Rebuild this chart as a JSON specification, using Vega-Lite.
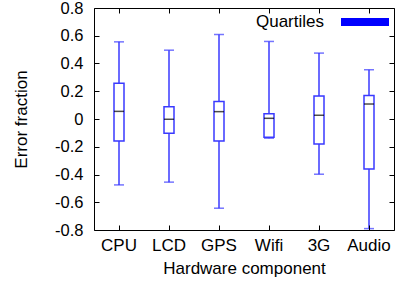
{
  "$schema": "https://vega.github.io/schema/vega-lite/v6.json",
  "width": 300,
  "height": 222,
  "autosize": {"type": "none"},
  "padding": {"left": 94, "top": 8, "right": 2, "bottom": 57},
  "config": {
    "font": "Liberation Sans",
    "view": {"stroke": "#000", "strokeWidth": 1},
    "axis": {"grid": false, "domain": false, "labelFont": "Liberation Sans", "titleFont": "Liberation Sans", "labelFontSize": 17, "titleFontSize": 17, "titleFontWeight": "normal", "labelColor": "#000", "titleColor": "#000", "labelOverlap": false, "tickColor": "#000", "tickWidth": 1}
  },
  "data": {"values": [
    {"comp": "CPU", "lower": -0.475, "q1": -0.158, "median": 0.055, "q3": 0.257, "upper": 0.556},
    {"comp": "LCD", "lower": -0.455, "q1": -0.103, "median": -0.002, "q3": 0.089, "upper": 0.496},
    {"comp": "GPS", "lower": -0.643, "q1": -0.158, "median": 0.053, "q3": 0.127, "upper": 0.609},
    {"comp": "Wifi", "lower": -0.138, "q1": -0.132, "median": 0.005, "q3": 0.038, "upper": 0.559},
    {"comp": "3G", "lower": -0.398, "q1": -0.18, "median": 0.027, "q3": 0.165, "upper": 0.475},
    {"comp": "Audio", "lower": -0.79, "q1": -0.36, "median": 0.108, "q3": 0.17, "upper": 0.355}
  ]},
  "resolve": {"axis": {"x": "independent", "y": "independent"}},
  "layer": [
    {
      "mark": {"type": "bar", "width": 10},
      "encoding": {
        "x": {"field": "comp", "type": "nominal", "sort": null, "scale": {"paddingInner": 0, "paddingOuter": 0}, "axis": {"orient": "top", "labels": false, "title": null, "ticks": true, "tickSize": 5, "offset": -222, "zindex": 2}},
        "y": {"field": "q1", "type": "quantitative", "scale": {"domain": [-0.8, 0.8], "nice": false}, "axis": {"orient": "right", "labels": false, "title": null, "values": [-0.8, -0.6, -0.4, -0.2, 0, 0.2, 0.4, 0.6, 0.8], "ticks": true, "tickSize": 5, "offset": -300, "zindex": 2}},
        "y2": {"field": "q3"},
        "fill": {"datum": "Quartiles", "type": "nominal", "scale": {"range": ["#0000ff"]}, "legend": {"title": null, "orient": "none", "legendX": 247, "legendY": -10, "symbolType": "M-1,-0.17L1,-0.17L1,0.17L-1,0.17Z", "symbolSize": 2304, "symbolStrokeWidth": 0, "labelAlign": "right", "labelOffset": -65, "labelFontSize": 17, "labelFont": "Liberation Sans", "labelColor": "#000"}}
      }
    },
    {
      "mark": {"type": "rule", "color": "#3a3aff", "strokeWidth": 1.5},
      "encoding": {
        "x": {"field": "comp", "type": "nominal", "sort": null, "axis": {"orient": "bottom", "title": "Hardware component", "labelAngle": 0, "labelPadding": 7, "titlePadding": 7, "ticks": false, "tickSize": 0}},
        "y": {"field": "lower", "type": "quantitative", "axis": {"orient": "left", "title": "Error fraction", "values": [-0.8, -0.6, -0.4, -0.2, 0, 0.2, 0.4, 0.6, 0.8], "labelExpr": "datum.value === 0 ? '0' : toString(round(datum.value*10)/10)", "labelFontSize": 16.5, "labelPadding": 11, "titlePadding": 24, "ticks": false, "tickSize": 0}},
        "y2": {"field": "upper"}
      }
    },
    {
      "mark": {"type": "tick", "color": "#3a3aff", "thickness": 1.5, "size": 10},
      "encoding": {"x": {"field": "comp", "type": "nominal", "sort": null, "axis": null}, "y": {"field": "upper", "type": "quantitative", "axis": null}}
    },
    {
      "mark": {"type": "tick", "color": "#3a3aff", "thickness": 1.5, "size": 10},
      "encoding": {"x": {"field": "comp", "type": "nominal", "sort": null, "axis": null}, "y": {"field": "lower", "type": "quantitative", "axis": null}}
    },
    {
      "mark": {"type": "bar", "fill": "#ffffff", "stroke": "#3a3aff", "strokeWidth": 1.5, "width": 10},
      "encoding": {
        "x": {"field": "comp", "type": "nominal", "sort": null, "axis": null},
        "y": {"field": "q1", "type": "quantitative", "axis": null},
        "y2": {"field": "q3"}
      }
    },
    {
      "mark": {"type": "tick", "color": "#000", "thickness": 1.5, "size": 10},
      "encoding": {
        "x": {"field": "comp", "type": "nominal", "sort": null, "axis": {"orient": "bottom", "labels": false, "title": null, "ticks": true, "tickSize": 5, "offset": -222, "zindex": 2}},
        "y": {"field": "median", "type": "quantitative", "axis": {"orient": "left", "labels": false, "title": null, "values": [-0.8, -0.6, -0.4, -0.2, 0, 0.2, 0.4, 0.6, 0.8], "ticks": true, "tickSize": 5, "offset": -300, "zindex": 2}}
      }
    }
  ]
}
